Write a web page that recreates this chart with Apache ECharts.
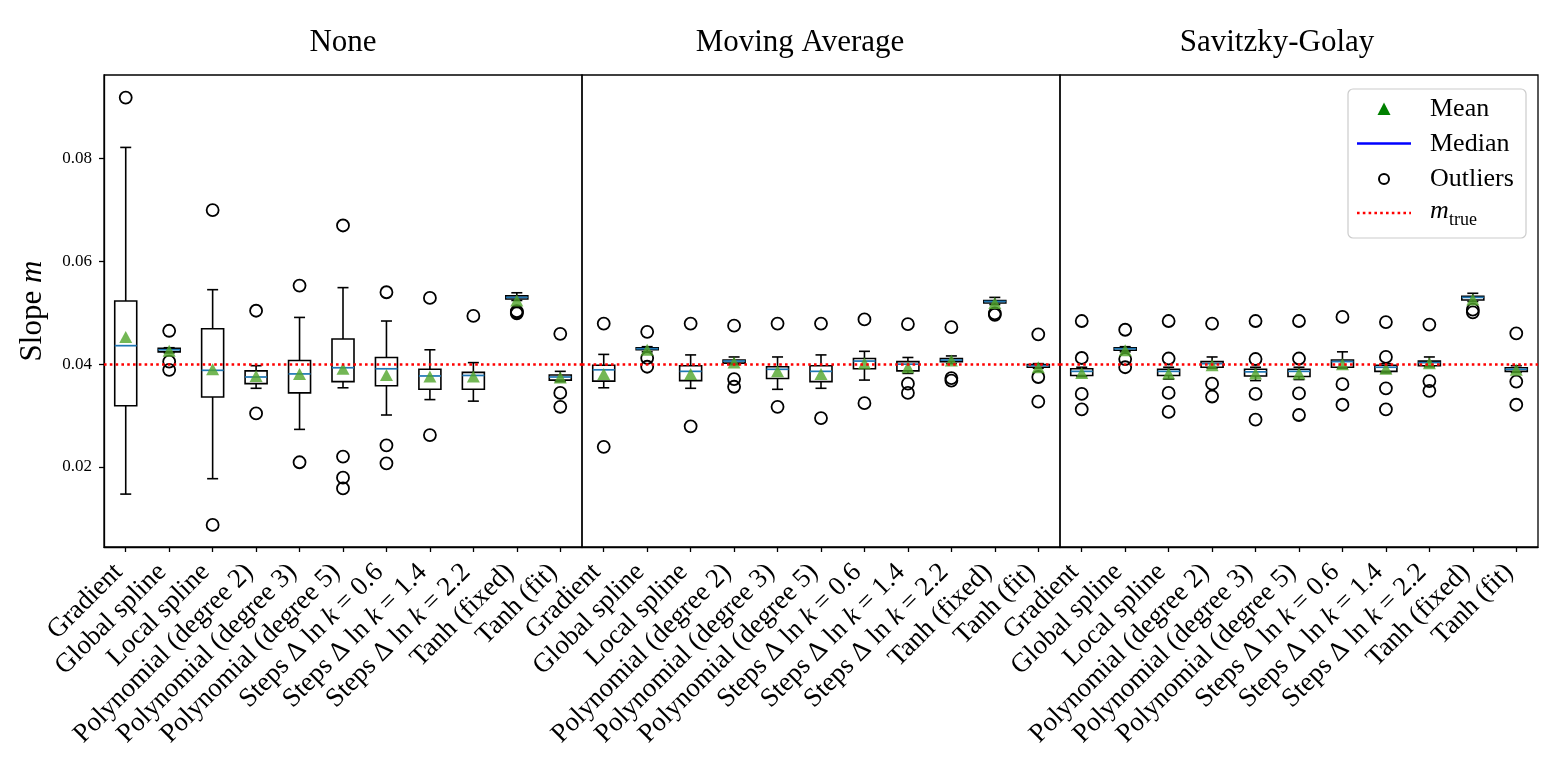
<!DOCTYPE html>
<html>
<head>
<meta charset="utf-8">
<script src="https://cdn.jsdelivr.net/npm/echarts@6/dist/echarts.min.js"></script>
<style>html,body{margin:0;padding:0;background:#fff;}#chart{width:1562px;height:781px;}</style>
</head>
<body>
<div id="chart"></div>
<script>
// ---------------- DATA ----------------
const categories = ['Gradient','Global spline','Local spline','Polynomial (degree 2)','Polynomial (degree 3)','Polynomial (degree 5)','Steps Δ ln k = 0.6','Steps Δ ln k = 1.4','Steps Δ ln k = 2.2','Tanh (fixed)','Tanh (fit)'];
const panelTitles = ['None','Moving Average','Savitzky-Golay'];
const yTicks = [0.02, 0.04, 0.06, 0.08];
const mTrue = 0.0394;

// [lower whisker, Q1, median, Q3, upper whisker]
const noneBoxes = [
  [0.0147,0.0319,0.0436,0.0523,0.0822],
  [0.0422,0.0424,0.0428,0.0431,0.0432],
  [0.0177,0.0336,0.0388,0.0469,0.0545],
  [0.0353,0.0362,0.0375,0.0387,0.0397],
  [0.0273,0.0344,0.0381,0.0407,0.0491],
  [0.0354,0.0366,0.0393,0.0449,0.0549],
  [0.0301,0.0358,0.0391,0.0413,0.0484],
  [0.0331,0.0351,0.0377,0.0390,0.0428],
  [0.0328,0.0351,0.0378,0.0384,0.0403],
  [0.0524,0.0527,0.0530,0.0533,0.0539],
  [0.0366,0.0369,0.0375,0.0379,0.0386]
];
const noneMeans = [0.0453,0.0426,0.0390,0.0377,0.0381,0.0391,0.0379,0.0376,0.0376,0.0524,0.0374];
const noneOutliers = [[0.0919],[0.0465,0.0405,0.0389],[0.0700,0.0087],[0.0504,0.0304],[0.0553,0.0209],[0.0670,0.0220,0.0179,0.0158],[0.0540,0.0242,0.0207],[0.0529,0.0262],[0.0494],[0.0503,0.0501,0.0499],[0.0459,0.0344,0.0317]];

const maBoxes = [
  [0.0354,0.0367,0.0389,0.0398,0.0419],
  [0.0424,0.0428,0.0430,0.0432,0.0434],
  [0.0353,0.0368,0.0386,0.0397,0.0418],
  [0.0399,0.0402,0.0406,0.0408,0.0414],
  [0.0351,0.0372,0.0390,0.0395,0.0414],
  [0.0353,0.0366,0.0386,0.0397,0.0418],
  [0.0369,0.0391,0.0406,0.0411,0.0425],
  [0.0382,0.0387,0.0400,0.0405,0.0413],
  [0.0401,0.0405,0.0408,0.0411,0.0416],
  [0.0516,0.0519,0.0522,0.0524,0.0530],
  [0.0392,0.0394,0.0397,0.0399,0.0401]
];
const maMeans = [0.0381,0.0428,0.0381,0.0403,0.0386,0.0381,0.0402,0.0394,0.0407,0.0519,0.0394];
const maOutliers = [[0.0479,0.0239],[0.0463,0.0412,0.0395],[0.0479,0.0279],[0.0475,0.0371,0.0356],[0.0479,0.0317],[0.0479,0.0295],[0.0487,0.0324],[0.0478,0.0362,0.0344],[0.0472,0.0373,0.0368],[0.0499,0.0496],[0.0458,0.0375,0.0327]];

const sgBoxes = [
  [0.0376,0.0378,0.0386,0.0391,0.0394],
  [0.0424,0.0427,0.0430,0.0432,0.0434],
  [0.0371,0.0378,0.0386,0.0390,0.0394],
  [0.0392,0.0394,0.0401,0.0405,0.0414],
  [0.0368,0.0377,0.0385,0.0390,0.0394],
  [0.0370,0.0376,0.0386,0.0390,0.0394],
  [0.0392,0.0394,0.0405,0.0408,0.0424],
  [0.0383,0.0386,0.0394,0.0398,0.0401],
  [0.0395,0.0397,0.0403,0.0406,0.0414],
  [0.0522,0.0525,0.0530,0.0532,0.0538],
  [0.0384,0.0386,0.0390,0.0393,0.0397]
];
const sgMeans = [0.0383,0.0427,0.0382,0.0398,0.0382,0.0382,0.0400,0.0391,0.0402,0.0526,0.0389];
const sgOutliers = [[0.0484,0.0412,0.0342,0.0312],[0.0467,0.0410,0.0394],[0.0484,0.0411,0.0344,0.0307],[0.0479,0.0362,0.0337],[0.0484,0.0410,0.0342,0.0292],[0.0484,0.0411,0.0343,0.0301],[0.0492,0.0361,0.0321],[0.0482,0.0414,0.0353,0.0312],[0.0477,0.0367,0.0348],[0.0506,0.0501],[0.0460,0.0366,0.0321]];

// ---------------- STYLE / LAYOUT ----------------
const FONT = '"Liberation Serif", "DejaVu Serif", serif';
const panels = [
  {boxes: noneBoxes, means: noneMeans, outliers: noneOutliers},
  {boxes: maBoxes, means: maMeans, outliers: maOutliers},
  {boxes: sgBoxes, means: sgMeans, outliers: sgOutliers}
];
const G_LEFT = 104, G_TOP = 75, G_W = 478, G_H = 472;
const TITLE_X = [343, 800, 1277];
const Y_MIN = 0.0044, Y_MAX = 0.0963;
const MEAN_COLOR = '#50a52a';
const MEDIAN_COLOR = '#1f77b4';
const XL = 27;

function renderBox(params, api) {
  const x = api.value(0);
  const lo = api.coord([x, api.value(1)]);
  const q1 = api.coord([x, api.value(2)]);
  const md = api.coord([x, api.value(3)]);
  const q3 = api.coord([x, api.value(4)]);
  const hi = api.coord([x, api.value(5)]);
  const cx = lo[0], hw = 11, cw = 5.5;
  const st = {stroke: '#000', lineWidth: 1.6, fill: null};
  return {type: 'group', children: [
    {type: 'line', shape: {x1: cx, y1: q3[1], x2: cx, y2: hi[1]}, style: st},
    {type: 'line', shape: {x1: cx, y1: q1[1], x2: cx, y2: lo[1]}, style: st},
    {type: 'line', shape: {x1: cx - cw, y1: hi[1], x2: cx + cw, y2: hi[1]}, style: st},
    {type: 'line', shape: {x1: cx - cw, y1: lo[1], x2: cx + cw, y2: lo[1]}, style: st},
    {type: 'rect', shape: {x: cx - hw, y: q3[1], width: 2 * hw, height: q1[1] - q3[1]}, style: {stroke: '#000', lineWidth: 1.6, fill: 'none'}},
    {type: 'line', shape: {x1: cx - hw, y1: md[1], x2: cx + hw, y2: md[1]}, style: {stroke: MEDIAN_COLOR, lineWidth: 1.7}}
  ]};
}

const grids = [], xAxes = [], yAxes = [], series = [], graphics = [];
panels.forEach((p, i) => {
  grids.push({left: G_LEFT + G_W * i, top: G_TOP, width: G_W, height: G_H, show: true, borderColor: '#000', borderWidth: 1.3, backgroundColor: 'transparent', containLabel: false});
  xAxes.push({
    gridIndex: i, type: 'category', data: categories, boundaryGap: true,
    axisLine: {show: true, lineStyle: {color: '#000', width: 1.3}},
    axisTick: {show: true, alignWithLabel: true, length: 5, lineStyle: {color: '#000', width: 1.3}},
    axisLabel: {
      interval: 0, rotate: 45, margin: 14, fontSize: XL, fontFamily: FONT, color: '#000', padding: [0, 10, 0, 0],
      formatter: (v) => v.replace('ln k', 'ln {i|k}'),
      rich: {i: {fontStyle: 'italic', fontSize: XL, fontFamily: FONT, color: '#000'}}
    },
    splitLine: {show: false}
  });
  const first = i === 0;
  yAxes.push({
    gridIndex: i, type: 'value', min: Y_MIN, max: Y_MAX,
    axisLine: {show: first, lineStyle: {color: '#000', width: 1.3}},
    axisTick: {show: first, length: 5, customValues: yTicks, lineStyle: {color: '#000', width: 1.3}},
    axisLabel: {show: first, customValues: yTicks, margin: 12, fontSize: 17, fontFamily: FONT, color: '#000', formatter: (v) => v.toFixed(2)},
    splitLine: {show: false},
    name: first ? '{r|Slope }{i|m}' : '',
    nameLocation: 'middle', nameRotate: 90, nameGap: 56,
    nameTextStyle: {fontSize: 31, fontFamily: FONT, color: '#000',
      rich: {r: {fontSize: 31, fontFamily: FONT, color: '#000'}, i: {fontSize: 31, fontStyle: 'italic', fontFamily: FONT, color: '#000'}}}
  });
  series.push({
    type: 'custom', xAxisIndex: i, yAxisIndex: i, silent: true, z: 2,
    renderItem: renderBox,
    encode: {x: 0, y: [1, 2, 3, 4, 5]},
    data: p.boxes.map((b, k) => [k].concat(b)),
    markLine: {
      silent: true, symbol: 'none', label: {show: false},
      lineStyle: {color: '#ff0000', width: 2.6, type: [2.6, 3.2], cap: 'butt'},
      data: [{yAxis: mTrue}]
    }
  });
  const outPts = [];
  p.outliers.forEach((arr, k) => arr.forEach(v => outPts.push([k, v])));
  series.push({
    type: 'scatter', xAxisIndex: i, yAxisIndex: i, silent: true, z: 3,
    symbol: 'circle', symbolSize: 12,
    itemStyle: {color: 'rgba(0,0,0,0)', borderColor: '#000', borderWidth: 1.8, opacity: 1},
    data: outPts
  });
  series.push({
    type: 'scatter', xAxisIndex: i, yAxisIndex: i, silent: true, z: 4,
    symbol: 'triangle', symbolSize: [13, 12],
    itemStyle: {color: MEAN_COLOR, borderWidth: 0},
    data: p.means.map((m, k) => [k, m])
  });
  graphics.push({type: 'text', x: TITLE_X[i], y: 43,
    style: {text: panelTitles[i], fontSize: 31, fontFamily: FONT, fill: '#000', textAlign: 'center', textVerticalAlign: 'middle'}});
});

// Legend (drawn as graphic elements)
const LX = 1348, LY = 89;
graphics.push(
  {type: 'rect', shape: {x: LX, y: LY, width: 178, height: 149, r: 5}, style: {fill: 'rgba(255,255,255,0.85)', stroke: '#cccccc', lineWidth: 1.2}, z: 100},
  {type: 'polygon', shape: {points: [[1384, 102.5], [1377.5, 115], [1390.5, 115]]}, style: {fill: '#008000'}, z: 101},
  {type: 'text', x: 1430, y: 109, style: {text: 'Mean', fontSize: 26, fontFamily: FONT, fill: '#000', textVerticalAlign: 'middle'}, z: 101},
  {type: 'line', shape: {x1: 1357, y1: 143.5, x2: 1411, y2: 143.5}, style: {stroke: '#0000ff', lineWidth: 2.5}, z: 101},
  {type: 'text', x: 1430, y: 144, style: {text: 'Median', fontSize: 26, fontFamily: FONT, fill: '#000', textVerticalAlign: 'middle'}, z: 101},
  {type: 'circle', shape: {cx: 1384, cy: 179, r: 5}, style: {fill: 'none', stroke: '#000', lineWidth: 2}, z: 101},
  {type: 'text', x: 1430, y: 179, style: {text: 'Outliers', fontSize: 26, fontFamily: FONT, fill: '#000', textVerticalAlign: 'middle'}, z: 101},
  {type: 'line', shape: {x1: 1357, y1: 213, x2: 1411, y2: 213}, style: {stroke: '#ff0000', lineWidth: 2.6, lineDash: [2.6, 3.2]}, z: 101},
  {type: 'text', x: 1430, y: 211, style: {text: 'm', fontSize: 26, fontStyle: 'italic', fontFamily: FONT, fill: '#000', textVerticalAlign: 'middle'}, z: 101},
  {type: 'text', x: 1449, y: 220, style: {text: 'true', fontSize: 18, fontFamily: FONT, fill: '#000', textVerticalAlign: 'middle'}, z: 101}
);

const chart = echarts.init(document.getElementById('chart'), null, {renderer: 'canvas'});
chart.setOption({
  animation: false,
  backgroundColor: '#fff',
  grid: grids,
  xAxis: xAxes,
  yAxis: yAxes,
  series: series,
  graphic: graphics
});
</script>
</body>
</html>
